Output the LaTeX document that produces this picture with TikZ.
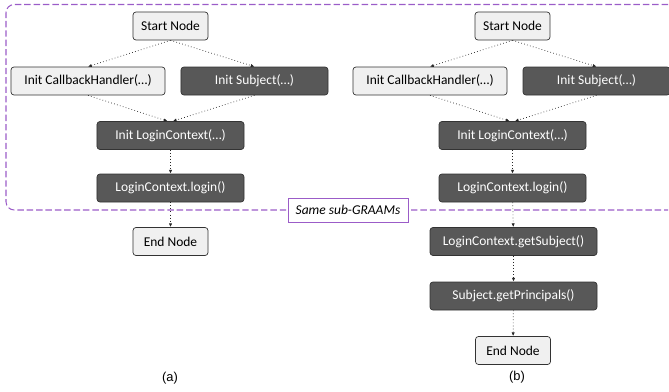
\documentclass[tikz,border=0pt]{standalone}
\usepackage{fontspec}
\setmainfont{Carlito}
\newfontfamily\capfont{Liberation Sans}
\usetikzlibrary{arrows.meta}
\definecolor{darkbox}{HTML}{585858}
\definecolor{lightbox}{HTML}{F0F0F0}
\definecolor{edgebox}{HTML}{333333}
\definecolor{grpline}{HTML}{9B5CC8}

\begin{document}
\begin{tikzpicture}[x=0.03cm,y=-0.03cm,
  font=\fontsize{11.5}{13}\selectfont,
  lightnode/.style={draw=edgebox,fill=lightbox,rounded corners=2.5pt,
    minimum height=0.84cm,inner sep=0pt,line width=0.6pt},
  darknode/.style={lightnode,fill=darkbox,text=white},
  flow/.style={-{Latex[length=3.2pt,width=2.8pt]},dotted,draw=black!85,line width=0.6pt},
  grp/.style={draw=grpline,line width=0.9pt,dash pattern=on 5.5pt off 2.5pt,rounded corners=7pt}]
  \useasboundingbox (0,0) rectangle (669,392);
  \draw[grp] (668,4.5) -- (6,4.5) -- (6,210) -- (668,210);
  \foreach \p/\x in {a/170.5,b/512.5}{
    \node[lightnode,minimum width=2.25cm] (\p start) at (\x,26) {Start Node};
    \node[lightnode,minimum width=4.62cm] (\p cbh) at (\x-82.5,81) {Init CallbackHandler(…)};
    \node[darknode,minimum width=4.41cm] (\p subj) at (\x+84,81) {Init Subject(…)};
    \node[darknode,minimum width=4.41cm] (\p ctx) at (\x,135.5) {Init LoginContext(…)};
    \node[darknode,minimum width=4.41cm] (\p login) at (\x,188) {LoginContext.login()};
    \draw[flow] (\p start.south) -- (\p cbh.north);
    \draw[flow] (\p start.south) -- (\p subj.north);
    \draw[flow] (\p cbh.south) -- ([xshift=-2.5pt]\p ctx.north);
    \draw[flow] (\p subj.south) -- ([xshift=2pt]\p ctx.north);
    \draw[flow] (\p ctx) -- (\p login);
  }
  \node[lightnode,minimum width=2.25cm] (aend) at (170.5,241.5) {End Node};
  \node[darknode,minimum width=5.01cm] (bgetsubj) at (513.5,241.5) {LoginContext.getSubject()};
  \node[darknode,minimum width=5.01cm] (bprinc) at (513.5,296) {Subject.getPrincipals()};
  \node[lightnode,minimum width=2.25cm] (bend) at (513,350.5) {End Node};
  \draw[flow] (alogin) -- (aend);
  \draw[flow] (blogin) -- (bgetsubj);
  \draw[flow] (bgetsubj) -- (bprinc);
  \draw[flow] (bprinc) -- (bend);
  \node[draw=grpline,fill=white,line width=0.7pt,minimum width=3.6cm,minimum height=0.72cm,
    font=\fontsize{11.5}{13}\selectfont\itshape] (same) at (348,210) {Same sub-GRAAMs};
  \node[font=\capfont\fontsize{11}{13}\selectfont] (capa) at (170,378) {(a)};
  \node[font=\capfont\fontsize{11}{13}\selectfont] (capb) at (517,377) {(b)};
\end{tikzpicture}
\end{document}
